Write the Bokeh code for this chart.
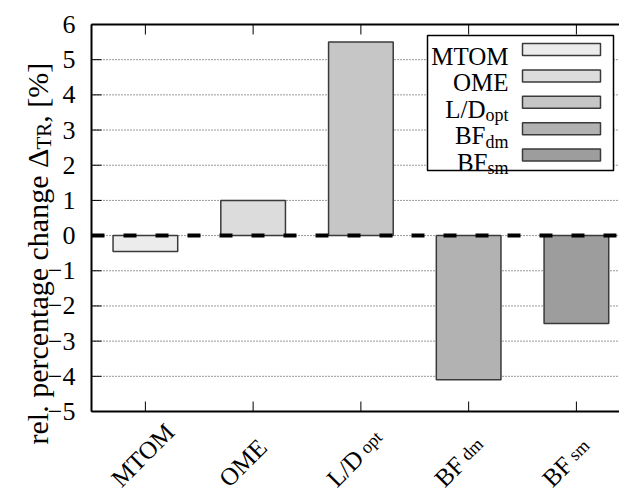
import math

from bokeh.core.properties import value
from bokeh.embed import file_html
from bokeh.models import ColumnDataSource, Range1d
from bokeh.plotting import figure
from bokeh.resources import INLINE

# ---- data -------------------------------------------------------------
categories = ["MTOM", "OME", "L/D", "BF", "BF"]
subscripts = ["", "", "opt", "dm", "sm"]
changes = [-0.45, 1.0, 5.5, -4.1, -2.5]
bar_colors = ["#ececec", "#dcdcdc", "#c6c6c6", "#b2b2b2", "#9d9d9d"]
y_ticks = list(range(-5, 7))

positions = list(range(1, len(categories) + 1))

# ---- layout -----------------------------------------------------------
W, H = 619, 491
LEFT, TOP, BOT = 91, 24, 411          # plot box edges in canvas pixels
X0, X1 = 0.5, 5.4                     # x span of the plot box (right edge at canvas edge)
Y0, Y1 = -5, 6
SX = (W - LEFT) / (X1 - X0)           # pixels per x unit
SY = (BOT - TOP) / (Y1 - Y0)          # pixels per y unit
FONT = "Liberation Serif"

# Times-style advance widths (per em) for laying out sub-scripted labels
ADV = {" ": .25, ",": .25, ".": .25, "/": .278, "[": .333, "]": .333, "%": .833,
       "B": .667, "D": .722, "E": .611, "F": .556, "L": .611, "M": .889, "O": .722,
       "R": .667, "T": .611, "a": .444, "c": .444, "d": .5, "e": .444, "g": .5,
       "h": .5, "l": .278, "m": .778, "n": .5, "o": .5, "p": .5, "r": .333,
       "s": .389, "t": .278, "\u0394": .612}


def text_width(s, size):
    return sum(ADV.get(ch, .5) for ch in s) * size


def dx(px):
    """canvas pixel column -> x data value"""
    return X0 + (px - LEFT) / SX


def dy(py):
    """canvas pixel row -> y data value"""
    return Y1 - (py - TOP) / SY


# the frame spans the whole canvas so that labels outside the plot box are not clipped
p = figure(width=W, height=H, x_range=Range1d(dx(0), dx(W)), y_range=Range1d(dy(H), dy(0)),
           output_backend="svg", toolbar_location=None,
           x_axis_type=None, y_axis_type=None, min_border=0)
p.outline_line_color = None
p.background_fill_color = "white"
p.border_fill_color = "white"


def txt(x, y, s, size, align="left", baseline="alphabetic", angle=0.0):
    p.text(x=[x], y=[y], text=[s], angle=angle, text_align=align,
           text_baseline=baseline, text_font=value(FONT),
           text_font_size=f"{size}px", text_color="black")


# ---- grid -------------------------------------------------------------
n = len(y_ticks)
p.segment(x0=[X0] * n, x1=[X1] * n, y0=y_ticks, y1=y_ticks,
          line_color="#333333", line_width=1, line_dash="1 2")

# ---- bars -------------------------------------------------------------
src = ColumnDataSource(dict(x=positions, top=changes, color=bar_colors))
p.vbar(x="x", top="top", bottom=0, width=0.6, source=src,
       fill_color="color", line_color="#3a3a3a", line_width=1.5)

# thick dashed zero axis over the bars
p.line(x=[X0, X1], y=[0, 0], line_color="black", line_width=4, line_dash="13 19")

# ---- plot box and ticks -------------------------------------------------
p.segment(x0=[X0, X0, X0], y0=[Y0, Y0, Y1], x1=[X0, X1, X1], y1=[Y1, Y0, Y1],
          line_color="black", line_width=2)
TICK = 10
p.segment(x0=[X0] * n, x1=[X0 + TICK / SX] * n, y0=y_ticks, y1=y_ticks,
          line_color="black", line_width=1)
m = len(positions)
p.segment(x0=positions, x1=positions, y0=[Y0] * m, y1=[Y0 + TICK / SY] * m,
          line_color="black", line_width=1)
p.segment(x0=positions, x1=positions, y0=[Y1] * m, y1=[Y1 - TICK / SY] * m,
          line_color="black", line_width=1)

tick_labels = [str(t) if t >= 0 else "\u2212" + str(-t) for t in y_ticks]
p.text(x=[X0 - 16 / SX] * n, y=y_ticks, text=tick_labels, text_align="right",
       text_baseline="middle", text_font=value(FONT), text_font_size="26px",
       text_color="black")

# ---- legend (label text left of the swatch) ----------------------------
p.quad(left=dx(427), right=dx(613), top=dy(35), bottom=dy(170),
       fill_color="white", line_color="black", line_width=1.5)
ROW0, ROW_STEP = 56.0, 26.4
LEG_SIZE, LEG_SUB = 25, 18
for i, (name, sub, col) in enumerate(zip(categories, subscripts, bar_colors)):
    base = ROW0 + i * ROW_STEP
    p.quad(left=dx(522), right=dx(600), top=dy(base - 13), bottom=dy(base - 1),
           fill_color=col, line_color="#3a3a3a", line_width=1.5)
    sub_w = text_width(sub, LEG_SUB)
    txt(dx(508 - sub_w), dy(base), name, LEG_SIZE, align="right")
    if sub:
        txt(dx(508), dy(base + 6), sub, LEG_SUB, align="right")

# ---- rotated category labels below the axis ----------------------------
ang = math.pi / 4
CAT_SIZE, CAT_SUB = 25, 18
for xv, name, sub in zip(positions, categories, subscripts):
    x_px = LEFT + (xv - X0) * SX - 30
    y_px = 482
    txt(dx(x_px), dy(y_px), name, CAT_SIZE, angle=ang)
    if sub:
        run = text_width(name, CAT_SIZE) + 5
        txt(dx(x_px + run * math.cos(ang)), dy(y_px - run * math.sin(ang)),
            sub, CAT_SUB, angle=ang)

# ---- y axis title with subscript ----------------------------------------
YL_SIZE, YL_SUB = 30, 21
yl_x = 37
cur = 444
for part, size, shift in [("rel. percentage change \u0394", YL_SIZE, 0),
                          ("TR", YL_SUB, 6),
                          (", [%]", YL_SIZE, 0)]:
    txt(dx(yl_x + shift), dy(cur), part, size, angle=math.pi / 2)
    cur -= text_width(part, size)

open("out.html", "w").write(file_html(p, INLINE))
